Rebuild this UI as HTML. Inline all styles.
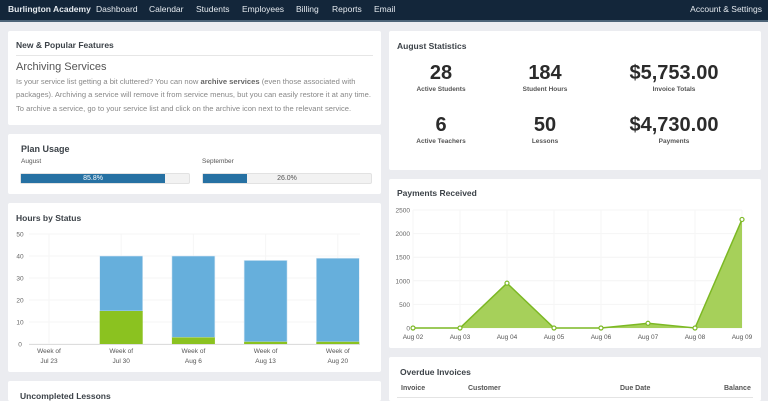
<!DOCTYPE html>
<html><head><meta charset="utf-8">
<style>
*{box-sizing:border-box;margin:0;padding:0}
html,body{width:768px;height:401px;overflow:hidden}
body{background:#ebecf0;font-family:"Liberation Sans",Arial,sans-serif;position:relative;color:#444}
.nav{position:absolute;left:0;top:0;width:768px;height:22px;background:#13263a;border-bottom:2px solid #4d6478}
.nav span{position:absolute;top:4px;font-size:8.5px;color:#e6ebf0;white-space:nowrap}
.card{position:absolute;background:#fff;border-radius:2px;overflow:hidden}
.h{position:absolute;font-size:8.5px;font-weight:bold;color:#3c4248;white-space:nowrap}
.abs{position:absolute}
.num{position:absolute;font-size:20px;font-weight:bold;color:#2b2b2b;transform:translateX(-50%);white-space:nowrap}
.lbl{position:absolute;font-size:6.5px;font-weight:bold;color:#555;transform:translateX(-50%);white-space:nowrap}
svg text{font-family:"Liberation Sans",Arial,sans-serif}
</style></head><body>
<div class="nav">
<span style="left:8px;font-weight:bold">Burlington Academy</span>
<span style="left:96px">Dashboard</span>
<span style="left:149px">Calendar</span>
<span style="left:196px">Students</span>
<span style="left:242px">Employees</span>
<span style="left:296px">Billing</span>
<span style="left:332px">Reports</span>
<span style="left:374px">Email</span>
<span style="right:6px">Account &amp; Settings</span>
</div>

<div class="card" style="left:8px;top:31px;width:373px;height:94px">
<div class="h" style="left:8px;top:9px">New &amp; Popular Features</div>
<div class="abs" style="left:8px;top:24px;width:357px;border-top:1px solid #e6e6e6"></div>
<div class="abs" style="left:8px;top:30px;font-size:11px;color:#555">Archiving Services</div>
<div class="abs" style="left:8px;top:44px;width:362px;font-size:7.6px;line-height:13.3px;color:#888">Is your service list getting a bit cluttered? You can now <b style="color:#666">archive services</b> (even those associated with packages). Archiving a service will remove it from service menus, but you can easily restore it at any time. To archive a service, go to your service list and click on the archive icon next to the relevant service.</div>
</div>

<div class="card" style="left:8px;top:134px;width:373px;height:60px">
<div class="h" style="left:13px;top:10px;font-size:9px">Plan Usage</div>
<div class="abs" style="left:13px;top:24px;font-size:6.5px;color:#555">August</div>
<div class="abs" style="left:194px;top:24px;font-size:6.5px;color:#555">September</div>
<div class="abs" style="left:12px;top:39px;width:170px;height:11px;background:#f2f2f2;border:1px solid #e2e2e2;border-radius:2px"><div style="width:85.8%;height:100%;background:#2671a3;color:#fff;font-size:7px;text-align:center;line-height:9px">85.8%</div></div>
<div class="abs" style="left:194px;top:39px;width:170px;height:11px;background:#f2f2f2;border:1px solid #e2e2e2;border-radius:2px"><div style="width:26%;height:100%;background:#2671a3"></div><div style="position:absolute;left:0;top:0;width:100%;text-align:center;font-size:7px;line-height:9px;color:#555">26.0%</div></div>
</div>

<div class="card" style="left:8px;top:203px;width:373px;height:169px">
<div class="h" style="left:8px;top:10px">Hours by Status</div>
</div>
<svg class="abs" style="left:0;top:0" width="384" height="401" id="bar"></svg>

<div class="card" style="left:8px;top:381px;width:373px;height:20px">
<div class="h" style="left:12px;top:10px">Uncompleted Lessons</div>
</div>

<div class="card" style="left:389px;top:31px;width:372px;height:139px">
<div class="h" style="left:8px;top:10px">August Statistics</div>
<div class="num" style="left:52px;top:31px">28</div>
<div class="lbl" style="left:52px;top:55px">Active Students</div>
<div class="num" style="left:156px;top:31px">184</div>
<div class="lbl" style="left:156px;top:55px">Student Hours</div>
<div class="num" style="left:285px;top:31px">$5,753.00</div>
<div class="lbl" style="left:285px;top:55px">Invoice Totals</div>
<div class="num" style="left:52px;top:83px">6</div>
<div class="lbl" style="left:52px;top:107px">Active Teachers</div>
<div class="num" style="left:156px;top:83px">50</div>
<div class="lbl" style="left:156px;top:107px">Lessons</div>
<div class="num" style="left:285px;top:83px">$4,730.00</div>
<div class="lbl" style="left:285px;top:107px">Payments</div>
</div>

<div class="card" style="left:389px;top:179px;width:372px;height:169px">
<div class="h" style="left:8px;top:9px">Payments Received</div>
</div>
<svg class="abs" style="left:384px;top:0" width="384" height="401" id="line"></svg>

<div class="card" style="left:389px;top:357px;width:372px;height:44px">
<div class="h" style="left:11px;top:10px">Overdue Invoices</div>
<div class="abs" style="left:12px;top:28px;font-size:7px;font-weight:bold;color:#555">Invoice</div>
<div class="abs" style="left:79px;top:28px;font-size:7px;font-weight:bold;color:#555">Customer</div>
<div class="abs" style="left:231px;top:28px;font-size:7px;font-weight:bold;color:#555">Due Date</div>
<div class="abs" style="left:335px;top:28px;font-size:7px;font-weight:bold;color:#555">Balance</div>
<div class="abs" style="left:8px;top:40px;width:356px;border-top:1px solid #e4e4e4"></div>
</div>

<script>
var NS="http://www.w3.org/2000/svg";
function mk(svg,tag,a){var e=document.createElementNS(NS,tag);for(var k in a)e.setAttribute(k,a[k]);svg.appendChild(e);return e;}

// Hours by Status
var weeks=["Jul 23","Jul 30","Aug 6","Aug 13","Aug 20"];
var totalHours=[0,40,40,38,39];
var completedHours=[0,15,3,1,1];
var hourTicks=[0,10,20,30,40,50];
var bar=document.getElementById("bar");
function by(v){return 344-v*2.2;}
function bx(i){return 49+i*72.2;}
hourTicks.forEach(function(t){
  var l=mk(bar,"line",{x1:29,x2:360,y1:by(t),y2:by(t),stroke:"#f4f4f4","stroke-width":1});
  
  
  var tx=mk(bar,"text",{x:20,y:by(t)+2.5,"font-size":6.5,fill:"#666","text-anchor":"middle"});tx.textContent=t;
  
  
});
weeks.forEach(function(w,i){
  var x=bx(i);
  mk(bar,"line",{x1:x,x2:x,y1:by(50),y2:by(0),stroke:"#f6f6f6"});
  if(totalHours[i]>0){
    var b=mk(bar,"rect",{x:x-21.5,y:by(totalHours[i]),width:43,height:by(completedHours[i])-by(totalHours[i]),fill:"#66afdc",stroke:"#dbeaf5","stroke-width":0.6});
    
    
    var g=mk(bar,"rect",{x:x-21.5,y:by(completedHours[i]),width:43,height:by(0)-by(completedHours[i]),fill:"#8bc220"});
    
    
  }
  var t1=mk(bar,"text",{x:x,y:353,"font-size":6.5,fill:"#555","text-anchor":"middle"});t1.textContent="Week of";
  
  
  var t2=mk(bar,"text",{x:x,y:363,"font-size":6.5,fill:"#555","text-anchor":"middle"});t2.textContent=w;
  
  
});
mk(bar,"line",{x1:29,x2:360,y1:by(0)+0.5,y2:by(0)+0.5,stroke:"#ddd"});

// Payments Received
var days=["Aug 02","Aug 03","Aug 04","Aug 05","Aug 06","Aug 07","Aug 08","Aug 09"];
var payments=[0,0,950,0,0,100,0,2300];
var payTicks=[0,500,1000,1500,2000,2500];
var ln=document.getElementById("line");
function px(i){return 29+i*47;}
function py(v){return 328-v*0.0472;}
payTicks.forEach(function(t){
  mk(ln,"line",{x1:29,x2:358,y1:py(t),y2:py(t),stroke:"#f4f4f4"});
  var tx=mk(ln,"text",{x:26,y:py(t)+2.5,"font-size":6.5,fill:"#666","text-anchor":"end"});tx.textContent=t;
  
  
});
days.forEach(function(d,i){
  mk(ln,"line",{x1:px(i),x2:px(i),y1:py(2500),y2:py(0),stroke:"#f6f6f6"});
  var tx=mk(ln,"text",{x:px(i),y:339,"font-size":6.5,fill:"#555","text-anchor":"middle"});tx.textContent=d;
  
  
});
var pts=payments.map(function(v,i){return px(i)+","+py(v);}).join(" ");
var area=mk(ln,"polygon",{points:px(0)+","+py(0)+" "+pts+" "+px(payments.length-1)+","+py(0),fill:"#a6d05a"});


var pl=mk(ln,"polyline",{points:pts,fill:"none",stroke:"#7cb824","stroke-width":1.5});


payments.forEach(function(v,i){
  var c=mk(ln,"circle",{cx:px(i),cy:py(v),r:2,fill:"#fff",stroke:"#7cb824","stroke-width":1.2});
  
  
});
</script>
</body></html>
